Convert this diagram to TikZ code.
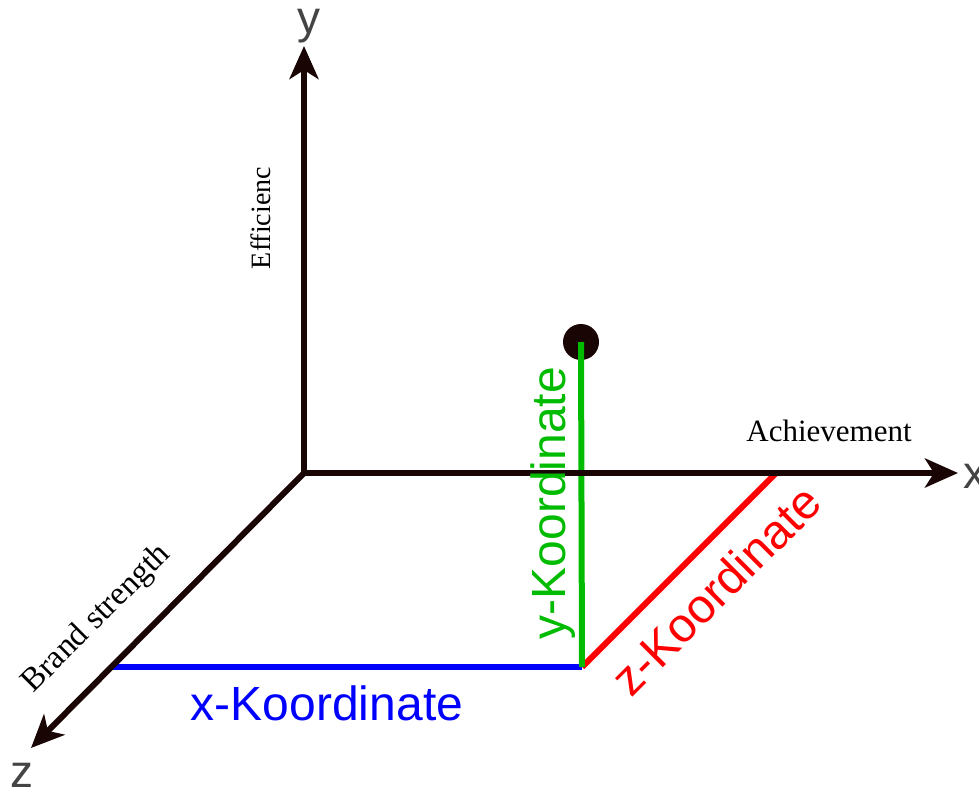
\documentclass[tikz,border=0pt]{standalone}
\usepackage{fontspec}
\setmainfont{Liberation Serif}
\newfontfamily\arialfont{Liberation Sans}
\usetikzlibrary{arrows.meta}
\definecolor{axiscol}{HTML}{1A0505}
\definecolor{lblgray}{HTML}{444444}
\definecolor{kblue}{HTML}{0000FF}
\definecolor{kgreen}{HTML}{00BB00}
\definecolor{kred}{HTML}{FF0000}
\tikzset{
  axis/.style={draw=axiscol, line width=6pt, -{Stealth[length=33pt,width=29pt,inset=9pt]}},
  coordline/.style={line width=6pt},
  axlbl/.style={font=\arialfont\fontsize{46}{46}\selectfont, text=lblgray, inner sep=0pt},
  klbl/.style={font=\arialfont\fontsize{48}{48}\selectfont, inner sep=0pt},
  serlbl/.style={font=\fontsize{31}{31}\selectfont, inner sep=0pt}
}
\begin{document}
\begin{tikzpicture}[x=1pt,y=-1pt]
\useasboundingbox (0,0) rectangle (979,789);
\coordinate (O) at (304,473);
\coordinate (ytip) at (304,46);
\coordinate (xtip) at (958,473);
\coordinate (ztip) at (31,748);
\coordinate (C) at (582,667);
\coordinate (zx) at (776,473);
\coordinate (xz) at (112,667);
\node[circle, fill=axiscol, minimum size=36pt, inner sep=0pt] (P) at (581,342) {};
% coordinate lines
\draw[coordline, kblue] (xz) -- (C);
\draw[coordline, kred] (C) -- (zx);
\draw[coordline, kgreen] (P.center) -- (C);
% axes
\draw[axis] (O) -- (ytip);
\draw[axis] (O) -- (xtip);
\draw[axis] (O) -- (ztip);
% axis letters
\node[axlbl] (ylbl) at (309,26) {y};
\node[axlbl] (xlbl) at (975,476) {x};
\node[axlbl] (zlbl) at (22,775) {z};
% coordinate labels
\node[klbl, text=kblue] (xk) at (327,703) {x-Koordinate};
\node[klbl, text=kgreen, rotate=90] (yk) at (553,503) {y-Koordinate};
\node[klbl, text=kred, rotate=45] (zk) at (716,590) {z-Koordinate};
% axis names
\node[serlbl] (ach) at (829,431) {Achievement};
\node[serlbl, font=\fontsize{28}{28}\selectfont, rotate=90] (eff) at (261,218) {Efficienc};
\node[serlbl, font=\fontsize{33}{33}\selectfont, rotate=45] (brand) at (97,619) {Brand strength};
\end{tikzpicture}
\end{document}
